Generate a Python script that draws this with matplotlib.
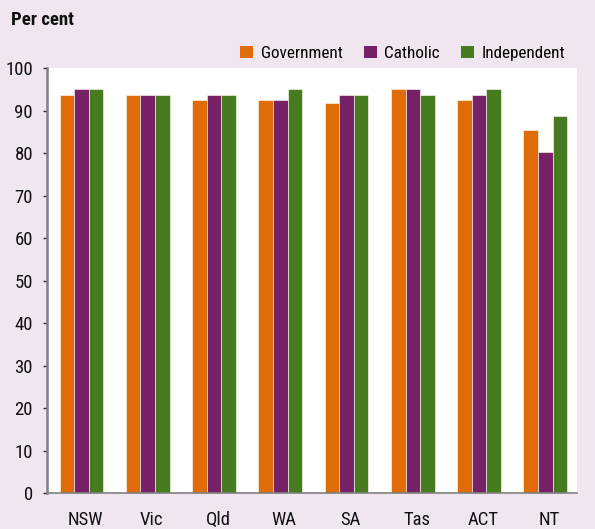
import matplotlib
matplotlib.use("Agg")
import matplotlib.pyplot as plt
from matplotlib.patches import Patch
from matplotlib import font_manager
import numpy as np


def pick_font(candidates):
    for name in candidates:
        try:
            font_manager.findfont(font_manager.FontProperties(family=name),
                                  fallback_to_default=False)
            return name
        except Exception:
            continue
    return "DejaVu Sans"


narrow = pick_font(["Liberation Sans Narrow", "DejaVu Sans Condensed",
                    "Roboto Condensed", "Open Sans Condensed", "Roboto"])
plt.rcParams['font.family'] = [narrow, 'DejaVu Sans']

states = ["NSW", "Vic", "Qld", "WA", "SA", "Tas", "ACT", "NT"]
government = [93.8, 93.8, 92.6, 92.6, 91.8, 95.0, 92.5, 85.4]
catholic = [95.0, 93.8, 93.8, 92.6, 93.8, 95.0, 93.8, 80.3]
independent = [95.0, 93.8, 93.8, 95.0, 93.8, 93.8, 95.0, 88.7]
series_names = ["Government", "Catholic", "Independent"]
colors = ["#e06c07", "#772266", "#477b20"]
yticks = [0, 10, 20, 30, 40, 50, 60, 70, 80, 90, 100]

bg = "#f0e6ef"
fig = plt.figure(figsize=(5.95, 5.29), dpi=100, facecolor=bg)
ax = fig.add_axes([0.079, 0.068, 0.891, 0.803])
ax.set_facecolor("white")

x = np.arange(len(states)) + 0.02
w = 0.22
for i, (vals, c) in enumerate(zip([government, catholic, independent], colors)):
    ax.bar(x + (i - 1) * w, vals, width=w, color=c, edgecolor="white",
           linewidth=0.4, zorder=2)

ax.set_xlim(-0.5, len(states) - 0.5)
ax.set_ylim(0, 100)
ax.set_yticks(yticks)
ax.set_xticks(np.arange(len(states)) + 0.08)
ax.set_xticklabels(states)
ax.tick_params(axis='y', length=3, width=1, color="#333333", labelsize=13.5,
               pad=7, labelcolor="#111111")
ax.tick_params(axis='x', length=0, labelsize=13.5, pad=13, labelcolor="#111111")

for s in ["top", "right"]:
    ax.spines[s].set_visible(False)
ax.spines["left"].set_color("#808080")
ax.spines["left"].set_linewidth(1.8)
ax.spines["bottom"].set_color("#808080")
ax.spines["bottom"].set_linewidth(1.2)

fig.text(0.018, 0.962, "Per cent", fontsize=13.5, fontweight="bold",
         ha="left", va="center", color="#111111")

handles = [Patch(facecolor=c, edgecolor="none") for c in colors]
fig.legend(handles, series_names, loc="center right",
           bbox_to_anchor=(0.962, 0.899), ncol=3, frameon=False,
           fontsize=12.3, handlelength=0.75, handleheight=0.75,
           handletextpad=0.45, columnspacing=1.25, borderaxespad=0)

fig.savefig("out.png", dpi=100, facecolor=bg)
